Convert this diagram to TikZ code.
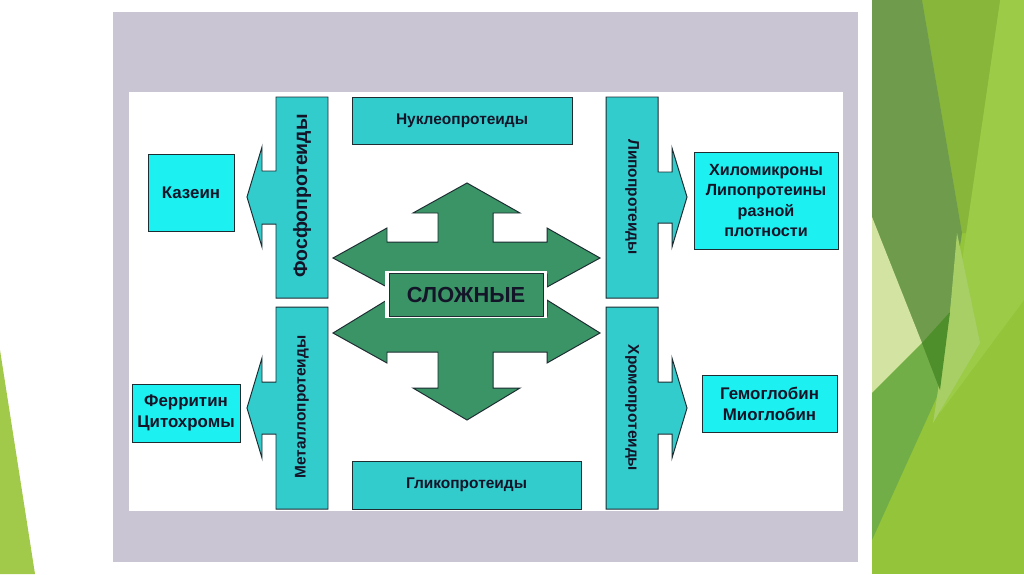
\documentclass[tikz,border=0pt]{standalone}
\usepackage{fontspec}
\setmainfont{Liberation Sans}
\definecolor{frame}{RGB}{201,197,210}
\definecolor{tealbar}{RGB}{51,204,204}
\definecolor{cyanbox}{RGB}{28,240,240}
\definecolor{cgreen}{RGB}{58,148,102}
\definecolor{edge}{RGB}{30,45,50}
\definecolor{txt}{RGB}{20,20,40}
\definecolor{gbase}{RGB}{147,196,58}
\definecolor{glight}{RGB}{156,203,72}
\definecolor{gmuted}{RGB}{110,155,76}
\definecolor{gmid}{RGB}{136,182,58}
\definecolor{gpale}{RGB}{211,228,162}
\definecolor{glow}{RGB}{114,174,71}
\definecolor{gdark}{RGB}{79,143,43}
\definecolor{gwedge}{RGB}{168,207,102}
\definecolor{gleft}{RGB}{161,201,74}
\begin{document}
\begin{tikzpicture}[x=0.025cm,y=-0.025cm,
  barshape/.style={fill=tealbar,draw=edge,line width=0.7pt,line join=miter},
  boxshape/.style={fill=cyanbox,draw=edge,line width=0.7pt},
  greenshape/.style={fill=cgreen,draw=edge,line width=0.7pt,line join=miter},
  bartext/.style={text=txt,font=\bfseries\fontsize{11}{13}\selectfont,inner sep=0pt},
  boxtext/.style={text=txt,font=\bfseries\fontsize{12}{15}\selectfont,align=center,inner sep=0pt}]
\useasboundingbox (0,0) rectangle (1024,574);
\fill[white] (0,0) rectangle (1024,574);
% decorations
\fill[gleft] (0,350) -- (35,574) -- (0,574) -- cycle;
\fill[gbase] (872,0) rectangle (1024,574);
\fill[glight] (1000,0) -- (1024,0) -- (1024,300) -- (940,413) -- cycle;
\fill[gmid] (922,0) -- (1000,0) -- (966,233) -- (962,233) -- cycle;
\fill[gmuted] (872,0) -- (922,0) -- (962,233) -- (938,387) -- (872,217) -- cycle;
\fill[gpale] (872,217) -- (922,343) -- (872,393) -- cycle;
\fill[glow] (872,393) -- (922,343) -- (940,390) -- (872,540) -- cycle;
\fill[gwedge] (957,233) -- (980,343) -- (933,423) -- (950,312) -- cycle;
\fill[gdark] (922,343) -- (950,312) -- (940,390) -- cycle;
% frame
\fill[frame] (113,12) rectangle (858,562);
\fill[white] (129,92) rectangle (843,511);
% central green shapes
\draw[greenshape] (467,420) -- (520,388) -- (493,388) -- (493,352) -- (547,352) -- (547,363) -- (600,333) -- (547,300) -- (547,316) -- (387,316) -- (387,300) -- (333,333) -- (387,363) -- (387,352) -- (438,352) -- (438,388) -- (413,388) -- cycle;
\draw[greenshape] (467,183) -- (520,213) -- (493,213) -- (493,242) -- (547,242) -- (547,228) -- (600,258) -- (547,287) -- (547,274) -- (387,274) -- (387,287) -- (333,258) -- (387,228) -- (387,242) -- (438,242) -- (438,213) -- (413,213) -- cycle;
\fill[white] (385,271) rectangle (547,318);
\draw[greenshape] (389,273) rectangle (543,316);
\node[text=txt,font=\bfseries\fontsize{15.5}{18}\selectfont,inner sep=0pt] (slozh) at (466,294.5) {СЛОЖНЫЕ};
% bars with arrows
\draw[barshape] (328,97) -- (276,97) -- (276,171) -- (262,171) -- (262,147) -- (247,197) -- (262,247) -- (262,224) -- (276,224) -- (276,298) -- (328,298) -- cycle;
\draw[barshape] (328,307) -- (276,307) -- (276,382) -- (262,382) -- (262,358) -- (247,408) -- (262,458) -- (262,434) -- (276,434) -- (276,509) -- (328,509) -- cycle;
\draw[barshape] (606,97) -- (658,97) -- (658,172) -- (672,172) -- (672,148) -- (687,197) -- (672,247) -- (672,223) -- (658,223) -- (658,298) -- (606,298) -- cycle;
\draw[barshape] (606,307) -- (658,307) -- (658,382) -- (672,382) -- (672,358) -- (687,408) -- (672,458) -- (672,434) -- (658,434) -- (658,509) -- (606,509) -- cycle;
\node[bartext,font=\bfseries\fontsize{13.8}{16}\selectfont,rotate=90] (fosfo) at (302,196) {Фосфопротеиды};
\node[bartext,rotate=90] (metallo) at (302,407) {Металлопротеиды};
\node[bartext,rotate=-90] (lipo) at (632,197) {Липопротеиды};
\node[bartext,rotate=-90] (chromo) at (632,408) {Хромопротеиды};
% horizontal bars
\draw[barshape] (352,97) rectangle (572,144);
\node[bartext] (nukleo) at (462,120.5) {Нуклеопротеиды};
\draw[barshape] (352,461) rectangle (581,509);
\node[bartext] (gliko) at (466.5,485) {Гликопротеиды};
% target boxes
\draw[boxshape] (148,154) rectangle (234,231);
\node[boxtext] (kazein) at (191,192.5) {Казеин};
\draw[boxshape] (132,384) rectangle (240,442);
\node[boxtext] (ferr) at (186,413) {Ферритин\\Цитохромы};
\draw[boxshape] (694,152) rectangle (838,249);
\node[boxtext,font=\bfseries\fontsize{11.5}{14.3}\selectfont] (chylo) at (766,200.5) {Хиломикроны\\Липопротеины\\разной\\плотности};
\draw[boxshape] (702,375) rectangle (837,432);
\node[boxtext] (hemo) at (769.5,403.5) {Гемоглобин\\Миоглобин};
\end{tikzpicture}
\end{document}
